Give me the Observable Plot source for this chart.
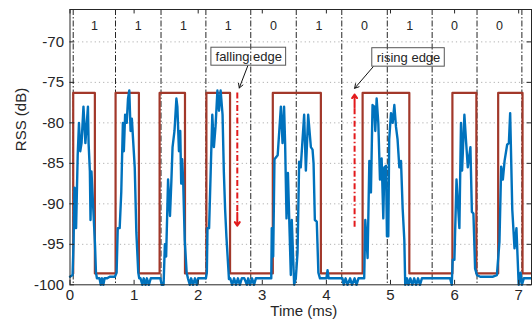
<!DOCTYPE html>
<html><head><meta charset="utf-8">
<script src="https://cdn.jsdelivr.net/npm/d3@7"></script>
<script src="https://cdn.jsdelivr.net/npm/@observablehq/plot@0.6"></script>
<style>body{margin:0;background:#fff} svg{font-family:"Liberation Sans",Arial,sans-serif}</style>
</head><body><div id="chart"></div>
<script>
// measured RSS (blue)
const blueT = [
 0.00,0.04,0.055,0.07,0.085,0.095,0.12,0.14,0.16,0.18,0.21,0.24,0.28,0.29,0.31,0.32,0.335,0.39,0.405,0.42,
 0.46,0.48,0.50,0.52,0.54,0.58,0.62,0.66,0.70,
 0.727,0.745,0.775,0.80,0.825,0.84,0.86,0.885,0.905,0.925,0.945,0.965,1.01,1.035,1.065,1.08,
 1.10,1.13,1.15,1.18,1.20,1.23,1.26,1.30,1.34,1.38,1.41,
 1.43,1.46,1.48,1.50,1.53,1.56,1.58,1.60,1.63,1.66,1.675,1.70,1.72,1.735,1.75,1.765,1.79,1.82,1.84,1.87,1.89,1.92,1.95,1.98,2.00,2.04,2.08,2.12,
 2.135,2.145,2.17,2.195,2.22,2.245,2.27,2.30,2.325,2.35,2.38,2.40,2.42,2.44,2.48,
 2.50,2.53,2.56,2.59,2.62,2.65,2.68,2.72,2.76,2.78,2.81,2.84,2.87,2.90,2.95,3.00,3.05,3.10,3.14,
 3.148,3.17,3.19,3.24,3.29,3.316,3.34,3.356,3.378,3.40,3.445,3.46,3.497,3.523,3.55,3.575,3.60,3.653,3.68,3.716,3.758,3.784,3.80,3.82,3.85,3.875,3.90,3.95,4.00,4.018,4.035,4.10,4.16,4.22,4.25,
 4.27,4.30,4.33,4.37,4.40,4.44,4.47,4.50,4.54,4.59,
 4.607,4.643,4.67,4.695,4.72,4.747,4.763,4.784,4.81,4.836,4.862,4.888,4.904,4.93,4.945,4.966,4.98,5.008,5.034,5.06,5.086,5.11,5.138,5.164,5.19,5.216,5.23,5.258,
 5.28,5.31,5.34,5.37,5.40,5.43,5.46,5.49,5.55,5.60,5.65,5.75,5.85,5.93,
 5.956,5.97,5.997,6.03,6.075,6.10,6.117,6.153,6.18,6.206,6.247,6.27,6.294,6.32,6.35,
 6.40,6.50,6.60,6.66,6.70,6.727,6.753,6.78,6.82,6.847,6.867,6.90,6.935,6.965,7.00,7.03,7.05,7.08,7.12,7.2
];
const blueRSS = [
 -99.0,-98.8,-95,-88,-88.5,-93,-84,-80,-83.5,-82.5,-78,-82.5,-78,-82.5,-86,-92,-86,-95,-98.5,-99.2,
 -99.2,-100,-99.2,-100,-99.2,-99.2,-99.0,-99.0,-99.0,
 -98.5,-93,-93,-88.5,-80,-83.5,-79,-80,-77,-76,-81,-79.5,-85.5,-93.5,-98.5,-99.2,
 -99.2,-100,-99.2,-100,-99.2,-100,-99.2,-99.2,-99.2,-99.2,-99.2,
 -100,-100,-95,-96.5,-87,-91.5,-87.5,-83,-81,-77,-78,-83.5,-81,-87.5,-84.5,-87,-94.5,-98.5,-99.2,-100,-99.2,-100,-99.2,-100,-99.2,-99.2,-99.2,-99.2,
 -98.5,-93,-93,-86,-79,-83,-80.5,-76,-78.5,-76,-79,-86,-90.7,-94,-99.3,
 -99.2,-100,-99.2,-100,-99.2,-100,-99.2,-99.2,-100,-99.2,-100,-99.2,-100,-99.2,-99.2,-99.2,-99.2,-99.2,-99.2,
 -93,-96.5,-84.5,-84,-78,-82.5,-78,-82.5,-91.8,-86.2,-98.8,-92,-100,-99.2,-96,-84.8,-85.5,-79,-85.9,-79,-83,-83.3,-85,-92,-92.2,-98.5,-99.2,-99.2,-99.2,-98.2,-99.2,-99.2,-99.2,-99.2,-99.2,
 -100,-99.2,-100,-99.2,-100,-99.2,-100,-99.2,-99.2,-99.2,
 -92,-96.7,-84.7,-88.6,-77.8,-78,-81,-77,-80,-87,-84.4,-91.8,-85.5,-85.3,-94,-94,-82,-78.8,-80,-77.8,-80.5,-82,-85.5,-84.7,-90.6,-94.5,-100,-99.2,
 -100,-99.2,-100,-99.2,-100,-99.2,-100,-99.2,-99.2,-99.2,-99.2,-99.2,-99.2,-99.2,
 -100,-96.9,-96.9,-87,-93,-80,-85.9,-79,-82.4,-85.5,-83,-91,-91.2,-98,-98.8,
 -99,-99,-99,-98.8,-94.7,-85.4,-87,-84.7,-82.7,-82.5,-78.8,-90.7,-95.5,-93,-100,-98.5,-100,-99.2,-99.2,-99.2
];
// decoded square wave (red)
const pulseStart = [0.05, 0.711, 1.398, 2.128, 3.164, 4.565, 5.966, 6.68];
const pulseEnd   = [0.388, 1.075, 1.794, 2.497, 3.914, 5.294, 6.34, 7.06];
const levelHigh = -76.3, levelLow = -98.6;
// bit slots
const bitEdges = [0.05, 0.71, 1.42, 2.12, 2.82, 3.53, 4.24, 4.95, 5.65, 6.35, 7.05];
const bits = ["1","1","1","1","0","1","0","1","0","0"];
const bitLabelY = -68;
// axes
const xTicks = [0,1,2,3,4,5,6,7];
const yTicks = [-100,-95,-90,-85,-80,-75,-70];
const xDomain = [0, 7.2], yDomain = [-100, -66];
// annotations
const annLabels = ["falling edge", "rising edge"];
const annBoxX1 = [2.206, 4.716], annBoxX2 = [3.372, 5.847];
const annBoxY1 = [-70.72, -70.78], annBoxY2 = [-72.94, -73.06];
const annArrowX1 = [2.773, 4.727], annArrowY1 = [-72.97, -73.1];
const annArrowX2 = [2.641, 4.441], annArrowY2 = [-75.69, -75.73];
const edgeArrowX = [2.61, 4.44], edgeArrowFrom = [-76.3, -92.9], edgeArrowTo = [-92.7, -76.5];

const blue = blueT.map((t, i) => ({t, v: blueRSS[i]}));
const red = [];
pulseStart.forEach((s, i) => {
  red.push({t: s, v: levelLow}, {t: s, v: levelHigh}, {t: pulseEnd[i], v: levelHigh}, {t: pulseEnd[i], v: levelLow});
});
red.push({t: xDomain[1], v: levelLow});
const bitData = bits.map((b, i) => ({b, t: (bitEdges[i] + bitEdges[i + 1]) / 2}));
const ann = annLabels.map((l, i) => ({l, x1: annBoxX1[i], x2: annBoxX2[i], y1: annBoxY1[i], y2: annBoxY2[i],
  ax1: annArrowX1[i], ay1: annArrowY1[i], ax2: annArrowX2[i], ay2: annArrowY2[i]}));
const edges = edgeArrowX.map((x, i) => {
  const from = edgeArrowFrom[i], to = edgeArrowTo[i];
  const dir = Math.sign(to - from);
  return {x, from, to, mid: to - dir * 1.6};
});
const tickLenY = 0.55, tickLenX = 0.07;

const chart = Plot.plot({
  width: 532, height: 325,
  marginLeft: 69.5, marginRight: 1, marginTop: 9, marginBottom: 40.7,
  x: {domain: xDomain},
  y: {domain: yDomain},
  style: {fontFamily: '"Liberation Sans", Arial, sans-serif', fontSize: "15px", color: "#262626"},
  marks: [
    Plot.ruleY(yTicks.slice(1), {y: d => d, stroke: "#b0b0b0", strokeWidth: 1, strokeDasharray: "1.2,3"}),
    Plot.ruleX(bitEdges, {x: d => d, stroke: "#262626", strokeWidth: 1, strokeDasharray: "6,2,1.5,2"}),
    Plot.line(red, {x: "t", y: "v", stroke: "#a2382a", strokeWidth: 2.2}),
    Plot.line(blue, {x: "t", y: "v", stroke: "#0072bd", strokeWidth: 2.4, strokeLinejoin: "round"}),
    Plot.text(bitData, {x: "t", y: () => bitLabelY, text: "b", fontSize: 12.5, fill: "#262626"}),
    Plot.rect(ann, {x1: "x1", x2: "x2", y1: "y1", y2: "y2", fill: "none", stroke: "#555", strokeWidth: 1}),
    Plot.text(ann, {x: d => (d.x1 + d.x2) / 2, y: d => (d.y1 + d.y2) / 2, text: "l", fontSize: 13, fill: "#262626"}),
    Plot.arrow(ann, {x1: "ax1", y1: "ay1", x2: "ax2", y2: "ay2", stroke: "#111", strokeWidth: 1, headLength: 7}),
    Plot.ruleX(edges, {x: "x", y1: "from", y2: "mid", stroke: "#e31a1c", strokeWidth: 2, strokeDasharray: "6,2.5,1.5,2.5"}),
    Plot.arrow(edges, {x1: "x", x2: "x", y1: "mid", y2: "to", stroke: "#e31a1c", strokeWidth: 2, headLength: 9, headAngle: 70}),
    Plot.frame({stroke: "#262626", strokeWidth: 1}),
    Plot.ruleX(xTicks, {x: d => d, y1: yDomain[0], y2: yDomain[0] + tickLenY, stroke: "#262626"}),
    Plot.ruleX(xTicks, {x: d => d, y1: yDomain[1], y2: yDomain[1] - tickLenY, stroke: "#262626"}),
    Plot.ruleY(yTicks, {y: d => d, x1: xDomain[0], x2: xDomain[0] + tickLenX, stroke: "#262626"}),
    Plot.ruleY(yTicks, {y: d => d, x1: xDomain[1], x2: xDomain[1] - tickLenX, stroke: "#262626"}),
    Plot.axisX({ticks: xTicks, tickSize: 0, tickPadding: 5, fontSize: 15, label: null, tickFormat: d => String(d)}),
    Plot.axisY({ticks: yTicks, tickSize: 0, tickPadding: 6, fontSize: 15, label: null, tickFormat: d => String(d)}),
    Plot.text(["Time (ms)"], {frameAnchor: "bottom", dy: 31, dx: 3, fontSize: 15, fill: "#262626"}),
    Plot.text(["RSS (dB)"], {frameAnchor: "left", rotate: -90, dx: -49, dy: 4, fontSize: 15, fill: "#262626"})
  ]
});
document.getElementById("chart").appendChild(chart);
</script>
</body></html>
